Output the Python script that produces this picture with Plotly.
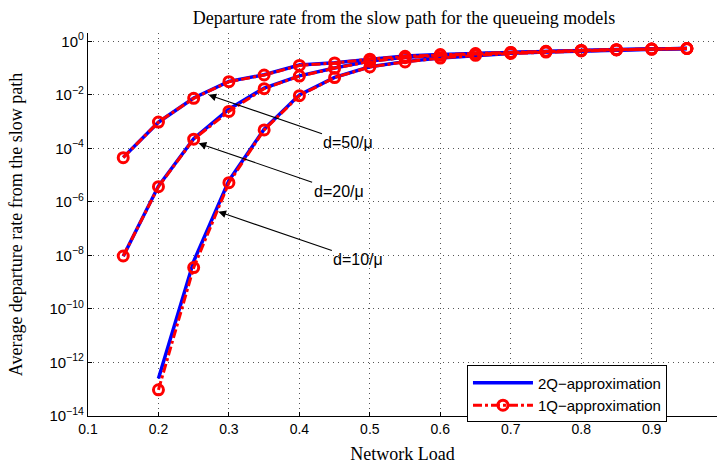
import math
import plotly.graph_objects as go

# Network load grid
load_full = [0.15, 0.20, 0.25, 0.30, 0.35, 0.40, 0.45, 0.50, 0.55,
             0.60, 0.65, 0.70, 0.75, 0.80, 0.85, 0.90, 0.95]
load_d10 = load_full[1:]

# Departure rate from the slow path, d = 50/mu
d50_2q = [4.6e-5, 9.5e-4, 7.6e-3, 3.2e-2, 5.6e-2, 0.129, 0.158, 0.219, 0.282,
          0.324, 0.355, 0.389, 0.427, 0.457, 0.490, 0.513, 0.537]
d50_1q = [4.5e-5, 9.6e-4, 7.4e-3, 3.1e-2, 5.5e-2, 0.125, 0.155, 0.214, 0.275,
          0.320, 0.350, 0.385, 0.425, 0.455, 0.488, 0.512, 0.537]

# d = 20/mu
d20_2q = [9.3e-9, 3.9e-6, 2.3e-4, 2.9e-3, 1.8e-2, 5.1e-2, 0.100, 0.182, 0.251,
          0.302, 0.339, 0.380, 0.417, 0.457, 0.490, 0.513, 0.537]
d20_1q = [9.5e-9, 3.7e-6, 2.2e-4, 2.4e-3, 1.7e-2, 5.0e-2, 0.098, 0.178, 0.245,
          0.298, 0.335, 0.378, 0.415, 0.455, 0.488, 0.512, 0.537]

# d = 10/mu
d10_2q = [2.5e-13, 6.0e-9, 6.3e-6, 5.2e-4, 1.0e-2, 4.5e-2, 0.112, 0.174,
          0.240, 0.302, 0.355, 0.398, 0.437, 0.479, 0.513, 0.537]
d10_1q = [9.5e-14, 3.5e-9, 5.2e-6, 4.9e-4, 9.3e-3, 4.4e-2, 0.110, 0.170,
          0.236, 0.298, 0.350, 0.395, 0.435, 0.477, 0.512, 0.537]

x_ticks = [0.1, 0.2, 0.3, 0.4, 0.5, 0.6, 0.7, 0.8, 0.9]
y_tickvals = [1e-14, 1e-12, 1e-10, 1e-8, 1e-6, 1e-4, 1e-2, 1e0]
y_ticktext = ["10<sup>−14</sup>", "10<sup>−12</sup>", "10<sup>−10</sup>",
              "10<sup>−8</sup>", "10<sup>−6</sup>", "10<sup>−4</sup>",
              "10<sup>−2</sup>", "10<sup>0</sup>"]

# Curve labels with the point each arrow points at
curve_labels = ["d=50/μ", "d=20/μ", "d=10/μ"]
arrow_x = [0.271, 0.257, 0.285]
arrow_y = [1.0e-2, 1.55e-4, 4.3e-7]

BLUE = "#0000ff"
RED = "#ff0000"
SANS = "Liberation Sans, Arial, sans-serif"
SERIF = "Liberation Serif, Times New Roman, serif"

fig = go.Figure()

series = [(load_full, d50_2q, d50_1q), (load_full, d20_2q, d20_1q),
          (load_d10, d10_2q, d10_1q)]

for i, (xs, two_q, _) in enumerate(series):
    fig.add_trace(go.Scatter(
        x=xs, y=two_q, mode="lines", name="2Q−approximation",
        legendgroup="2q", showlegend=(i == 0),
        line=dict(color=BLUE, width=3.5)))

for i, (xs, _, one_q) in enumerate(series):
    fig.add_trace(go.Scatter(
        x=xs, y=one_q, mode="lines+markers", name="1Q−approximation",
        legendgroup="1q", showlegend=(i == 0),
        line=dict(color=RED, width=3, dash="dashdot"),
        marker=dict(symbol="circle-open", size=10, color=RED,
                    line=dict(width=3, color=RED))))

# Arrow annotations (log axis takes log10 of the y position)
for label, ax_pt, ay_pt in zip(curve_labels, arrow_x, arrow_y):
    fig.add_annotation(
        x=ax_pt, y=math.log10(ay_pt), xref="x", yref="y", text=label,
        showarrow=True, arrowhead=2, arrowsize=1.4, arrowwidth=1.1,
        arrowcolor="black", ax=140, ay=48, xanchor="center",
        font=dict(family=SANS, size=16, color="black"))

fig.update_layout(
    width=717, height=467,
    margin=dict(l=88, r=0, t=33, b=51),
    paper_bgcolor="white", plot_bgcolor="white",
    title=dict(text="Departure rate from the slow path for the queueing models",
               x=404 / 717, xanchor="center", y=0.963, yanchor="middle",
               font=dict(family=SERIF, size=18, color="black")),
    legend=dict(x=0.6025, y=0.132, xanchor="left", yanchor="top",
                bgcolor="white", bordercolor="black", borderwidth=1,
                font=dict(family=SANS, size=15, color="black"),
                tracegroupgap=0, itemwidth=60,
                entrywidth=180, entrywidthmode="pixels"),
    showlegend=True,
)

fig.update_xaxes(
    range=[0.1, 0.9927], tickvals=x_ticks,
    ticktext=[f"{v:g}" for v in x_ticks],
    showline=True, linecolor="black", linewidth=1.2, mirror=False,
    ticks="inside", ticklen=4, tickcolor="black",
    showgrid=True, gridcolor="#555", griddash="1px,4px", gridwidth=1,
    zeroline=False,
    tickfont=dict(family=SANS, size=14, color="black"),
    title=dict(text="Network Load", standoff=11,
               font=dict(family=SERIF, size=18, color="black")),
)

fig.update_yaxes(
    type="log", range=[-14, 0.31], tickvals=y_tickvals, ticktext=y_ticktext,
    showline=True, linecolor="black", linewidth=1.2, mirror=False,
    ticks="inside", ticklen=4, tickcolor="black",
    showgrid=True, gridcolor="#555", griddash="1px,4px", gridwidth=1,
    zeroline=False,
    tickfont=dict(family=SANS, size=15, color="black"),
    title=dict(text="Average departure rate from the slow path", standoff=22,
               font=dict(family=SERIF, size=18, color="black")),
)

fig.write_html("out.html")
